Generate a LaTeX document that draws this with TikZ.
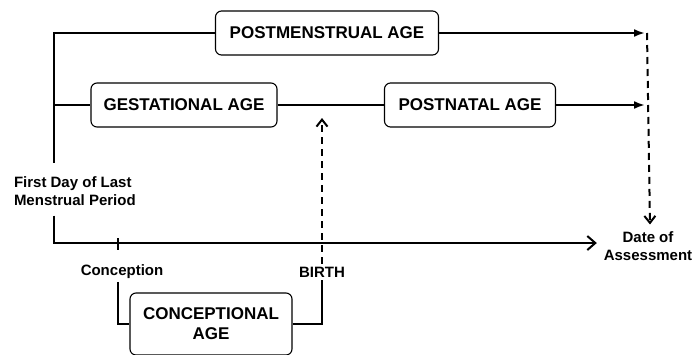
\documentclass[tikz,border=0pt]{standalone}
\usepackage{fontspec}
\setmainfont{Liberation Sans}
\usetikzlibrary{arrows.meta}

\begin{document}
\begin{tikzpicture}[x=1pt, y=-1pt, line width=2pt,
	agebox/.style={draw, line width=1.1pt, rounded corners=6pt, inner sep=0pt, minimum height=44, font=\fontsize{17}{20}\selectfont\bfseries, align=center},
	lbl/.style={inner sep=2pt, font=\fontsize{15}{18}\selectfont\bfseries},
	tri/.style={-{Latex[length=11, width=8]}},
	barb/.style={-{Straight Barb[length=8, width=14, line width=2pt]}},
	dbarb/.style={dashed, dash pattern=on 7pt off 5pt, -{Straight Barb[length=7, width=11, line width=2pt]}}]
	\useasboundingbox (0,0) rectangle (696,354);
	\coordinate (top) at (54,33);
	\coordinate (origin) at (54,243);
	\coordinate (assess) at (645,33);
	\coordinate (concpt) at (118,243);
	\node[agebox, minimum width=223] (pma) at (327,33) {POSTMENSTRUAL AGE};
	\node[agebox, minimum width=186] (ga) at (184,105) {GESTATIONAL AGE};
	\node[agebox, minimum width=171] (pna) at (470,105) {POSTNATAL AGE};
	\node[agebox, minimum width=162, minimum height=62] (ca) at (211,324) {CONCEPTIONAL\\AGE};
	\node[lbl, anchor=west, align=left] (lmp) at (11,191) {First Day of Last\\Menstrual Period};
	\node[lbl, align=center] (doa) at (648,246) {Date of\\Assessment};
	\node[lbl] (conc) at (122,272) {Conception};
	\node[lbl] (birth) at (322,272) {BIRTH};
	\draw (pma.west) -- (top) -- ([yshift=10]lmp.north -| top);
	\draw (top |- ga) -- (ga.west);
	\draw (ga.east) -- (pna.west);
	\draw[tri] (pma.east) -- (assess);
	\draw[tri] (pna.east) -- (assess |- pna);
	\draw[dbarb] ([xshift=2]assess) -- ([xshift=2,yshift=4]doa.north);
	\draw[barb] ([yshift=-7]lmp.south -| origin) -- (origin) -- ([xshift=-4]doa.west |- origin);
	\draw ([yshift=5]concpt) -- ([yshift=-7]concpt);
	\draw[dbarb] (birth.north) -- ([yshift=-13]birth |- ga);
	\draw (conc.south -| concpt) |- (ca.west);
	\draw (ca.east) -| (birth.south);
\end{tikzpicture}
\end{document}
